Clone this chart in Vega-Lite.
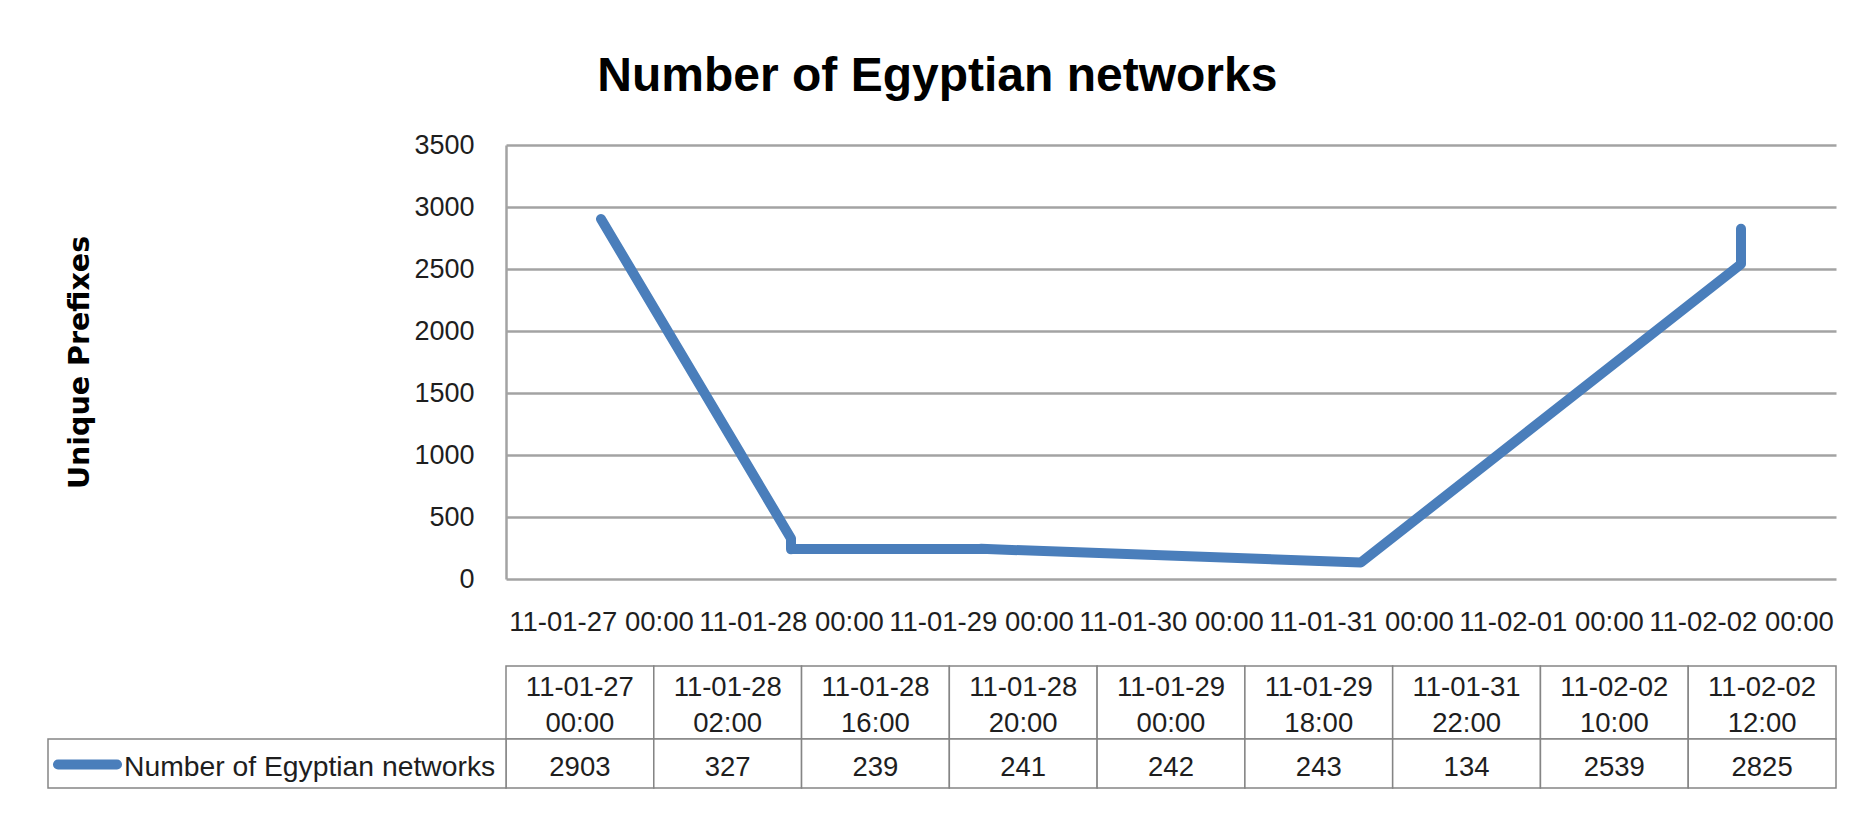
{
  "$schema": "https://vega.github.io/schema/vega-lite/v6.json",
  "background": "white",
  "padding": {"left": 38, "top": 53, "right": 10, "bottom": 36},
  "title": {
    "text": "Number of Egyptian networks",
    "font": "Liberation Sans",
    "fontSize": 48,
    "fontWeight": "bold",
    "color": "#000000",
    "anchor": "middle",
    "offset": 30
  },
  "datasets": {
    "readings": [
      {"when": "2011-01-27 00:00", "networks": 2903},
      {"when": "2011-01-28 02:00", "networks": 327},
      {"when": "2011-01-28 16:00", "networks": 239},
      {"when": "2011-01-28 20:00", "networks": 241},
      {"when": "2011-01-29 00:00", "networks": 242},
      {"when": "2011-01-29 18:00", "networks": 243},
      {"when": "2011-01-31 22:00", "networks": 134},
      {"when": "2011-02-02 10:00", "networks": 2539},
      {"when": "2011-02-02 12:00", "networks": 2825}
    ],
    "series": [
      {"series": "Number of Egyptian networks"}
    ]
  },
  "data": {"name": "readings"},
  "bounds": "flush",
  "spacing": 0,
  "config": {
    "font": "Liberation Sans",
    "view": {"stroke": null},
    "text": {"color": "#1e1e1e"}
  },
  "vconcat": [
    {
      "width": 1330,
      "height": 434,
      "mark": {
        "type": "line",
        "color": "#4A7EBB",
        "strokeWidth": 10,
        "strokeCap": "round",
        "strokeJoin": "round"
      },
      "encoding": {
        "x": {
          "field": "when",
          "timeUnit": "yearmonthdate",
          "type": "ordinal",
          "scale": {
            "type": "point",
            "padding": 0.5,
            "domain": [
              {"year": 2011, "month": 1, "date": 27},
              {"year": 2011, "month": 1, "date": 28},
              {"year": 2011, "month": 1, "date": 29},
              {"year": 2011, "month": 1, "date": 30},
              {"year": 2011, "month": 1, "date": 31},
              {"year": 2011, "month": 2, "date": 1},
              {"year": 2011, "month": 2, "date": 2}
            ]
          },
          "axis": {
            "title": null,
            "format": "%y-%m-%d %H:%M",
            "formatType": "time",
            "labelFont": "Liberation Sans",
            "labelFontSize": 27.5,
            "labelColor": "#1e1e1e",
            "labelPadding": 29,
            "labelLimit": 400,
            "labelOverlap": false,
            "labelAngle": 0,
            "ticks": false,
            "domain": false,
            "grid": false
          }
        },
        "y": {
          "field": "networks",
          "type": "quantitative",
          "scale": {"domain": [0, 3500]},
          "axis": {
            "values": [0, 500, 1000, 1500, 2000, 2500, 3000, 3500],
            "format": "d",
            "title": "Unique Prefixes",
            "titleFont": "DejaVu Sans",
            "titleFontSize": 28.5,
            "titleFontWeight": "bold",
            "titleColor": "#000000",
            "titleAngle": 270,
            "titleAlign": "center",
            "titleBaseline": "middle",
            "titleX": -427,
            "titleY": 217,
            "labelFont": "Liberation Sans",
            "labelFontSize": 27,
            "labelColor": "#1e1e1e",
            "labelPadding": 32,
            "ticks": false,
            "domain": true,
            "domainColor": "#a3a3a3",
            "domainWidth": 2.5,
            "grid": true,
            "gridColor": "#a3a3a3",
            "gridWidth": 2.5
          }
        },
        "order": {"field": "when", "type": "temporal"}
      }
    },
    {
      "width": 1330,
      "height": 87,
      "data": {"values": []},
      "mark": {"type": "rect", "opacity": 0},
      "encoding": {}
    },
    {
      "width": 1330,
      "height": 73,
      "layer": [
        {
          "mark": {"type": "rect", "fill": "white", "stroke": "#858585", "strokeWidth": 1.5},
          "encoding": {
            "x": {
              "field": "when",
              "timeUnit": "yearmonthdatehoursminutes",
              "type": "ordinal",
              "scale": {"type": "band", "paddingInner": 0, "paddingOuter": 0},
              "axis": null
            }
          }
        },
        {
          "mark": {
            "type": "text",
            "fontSize": 27.5,
            "lineBreak": " ",
            "lineHeight": 36,
            "baseline": "middle",
            "dy": -15
          },
          "encoding": {
            "x": {
              "field": "when",
              "timeUnit": "yearmonthdatehoursminutes",
              "type": "ordinal",
              "scale": {"type": "band", "paddingInner": 0, "paddingOuter": 0},
              "axis": null
            },
            "text": {"field": "when", "type": "temporal", "format": "%y-%m-%d %H:%M"}
          }
        }
      ]
    },
    {
      "width": 1330,
      "height": 49,
      "layer": [
        {
          "mark": {"type": "rect", "fill": "white", "stroke": "#858585", "strokeWidth": 1.5},
          "encoding": {
            "x": {
              "field": "when",
              "timeUnit": "yearmonthdatehoursminutes",
              "type": "ordinal",
              "scale": {"type": "band", "paddingInner": 0, "paddingOuter": 0},
              "axis": null
            }
          }
        },
        {
          "mark": {"type": "text", "fontSize": 27.5, "baseline": "middle", "dy": 4},
          "encoding": {
            "x": {
              "field": "when",
              "timeUnit": "yearmonthdatehoursminutes",
              "type": "ordinal",
              "scale": {"type": "band", "paddingInner": 0, "paddingOuter": 0},
              "axis": null
            },
            "text": {"field": "networks", "type": "quantitative", "format": "d"}
          }
        },
        {
          "data": {"name": "series"},
          "mark": {"type": "rect", "fill": "white", "stroke": "#858585", "strokeWidth": 1.5},
          "encoding": {
            "x": {
              "field": "series",
              "type": "nominal",
              "scale": {"type": "band", "range": [-458, 0], "paddingInner": 0, "paddingOuter": 0},
              "axis": null
            }
          }
        },
        {
          "data": {"name": "series"},
          "mark": {"type": "text", "fontSize": 28.3, "align": "left", "baseline": "middle", "dx": 76, "dy": 4},
          "encoding": {
            "x": {
              "field": "series",
              "type": "nominal",
              "bandPosition": 0,
              "scale": {"type": "band", "range": [-458, 0], "paddingInner": 0, "paddingOuter": 0},
              "axis": null
            },
            "text": {"field": "series", "type": "nominal"}
          }
        },
        {
          "data": {"name": "series"},
          "mark": {
            "type": "point",
            "shape": "stroke",
            "size": 3481,
            "filled": false,
            "opacity": 1,
            "color": "#4A7EBB",
            "strokeWidth": 10,
            "strokeCap": "round",
            "xOffset": 39.5,
            "yOffset": 1
          },
          "encoding": {
            "x": {
              "field": "series",
              "type": "nominal",
              "bandPosition": 0,
              "scale": {"type": "band", "range": [-458, 0], "paddingInner": 0, "paddingOuter": 0},
              "axis": null
            }
          }
        }
      ],
      "resolve": {"scale": {"x": "independent"}}
    }
  ]
}
